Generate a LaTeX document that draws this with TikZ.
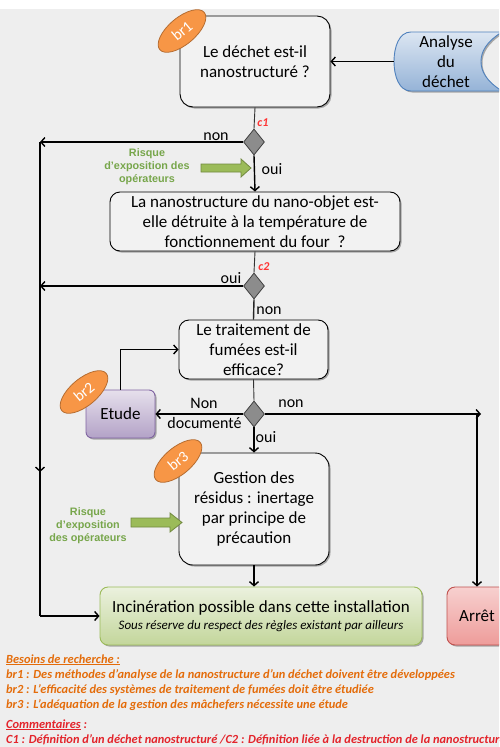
\documentclass[tikz,border=0pt]{standalone}
\usepackage{fontspec}
\setmainfont{Carlito}
\newfontfamily\arialf{Liberation Sans}
\usetikzlibrary{shapes.geometric,arrows.meta,shadows,shadings}
\definecolor{bgc}{HTML}{EEEEEE}
\definecolor{boxf}{HTML}{F2F2F2}
\definecolor{diaf}{HTML}{8C8C8C}
\definecolor{diab}{HTML}{404040}
\definecolor{brf}{HTML}{F79646}
\definecolor{brb}{HTML}{B66D31}
\definecolor{anat}{HTML}{DCE6F2}
\definecolor{anabot}{HTML}{95B3D7}
\definecolor{anab}{HTML}{4F81BD}
\definecolor{ett}{HTML}{E6E0EC}
\definecolor{etb}{HTML}{B3A2C7}
\definecolor{etd}{HTML}{8064A2}
\definecolor{inct}{HTML}{EBF1DE}
\definecolor{incb}{HTML}{C3D69B}
\definecolor{incd}{HTML}{9BBB59}
\definecolor{art}{HTML}{F7D0CF}
\definecolor{arb}{HTML}{EE9C9A}
\definecolor{ard}{HTML}{C0504D}
\definecolor{grf}{HTML}{9BBB59}
\definecolor{grb}{HTML}{71893F}
\definecolor{grt}{HTML}{77A64B}
\definecolor{ort}{HTML}{E46C0A}
\definecolor{redt}{HTML}{E3242B}
\definecolor{clr}{HTML}{FF3333}
\newcommand\mainsz{\fontsize{17}{20}\selectfont}
\begin{document}
\begin{tikzpicture}[x=1pt,y=-1pt,
  shad/.style={drop shadow={shadow xshift=1.5pt,shadow yshift=-1.5pt,opacity=0.3,fill=black}},
  box/.style={draw=black,line width=0.9pt,rounded corners=10pt,fill=boxf,align=center,font=\mainsz,inner sep=0pt,shad},
  dia/.style={diamond,draw=diab,fill=diaf,line width=0.8pt,minimum width=21pt,minimum height=26pt,inner sep=0pt},
  brl/.style={ellipse,draw=brb,fill=brf,line width=0.8pt,minimum width=58pt,minimum height=27pt,inner sep=0pt,text=white,font=\fontsize{15.5}{17}\selectfont},
  arr/.style={line width=1.4pt,-{Straight Barb[length=4pt,width=9pt]}},
  thinl/.style={line width=0.9pt,draw=black!80},
  thkl/.style={line width=1.4pt},
  lab/.style={font=\fontsize{16}{18}\selectfont,inner sep=0pt},
  clab/.style={font=\fontsize{12}{13}\selectfont\bfseries\itshape,text=clr,inner sep=0pt},
  gtxt/.style={font=\arialf\fontsize{10.8}{13}\selectfont\bfseries,text=grt,align=center,inner sep=0pt},
  garrow/.style={fill=grf,draw=grb,line width=0.8pt},
  note/.style={anchor=base west,inner sep=0pt,font=\fontsize{12.4}{13}\selectfont\bfseries\itshape}
]
\clip (0,0) rectangle (499,747);
\fill[white] (0,0) rectangle (499,9);
\fill[bgc] (0,9) rectangle (499,747);

% Analyse du dechet (stored data shape)
\path[draw=anab,line width=0.9pt,top color=anat,bottom color=anabot,shad]
  (411,32) -- (502,32) .. controls (486,42) and (481,52) .. (481,61.5)
  .. controls (481,71) and (486,81) .. (502,91) -- (411,91)
  .. controls (399,91) and (394,76) .. (394,61.5)
  .. controls (394,47) and (399,32) .. (411,32) -- cycle;
\node[font=\mainsz,align=center,minimum width=104pt,minimum height=59pt,inner sep=0pt] (ana) at (446,61.5) {Analyse\\du\\déchet};

% boxes
\node[box,minimum width=150pt,minimum height=91pt,rounded corners=13pt] (b1) at (255,61.5) {Le déchet est-il\\nanostructuré ?};
\node[box,minimum width=290pt,minimum height=59pt] (b2) at (255,221.5) {La nanostructure du nano-objet est-\\elle détruite à la température de\\fonctionnement du four~ ?};
\node[box,minimum width=149pt,minimum height=59pt] (b3) at (253.5,349.5) {Le traitement de\\fumées est-il\\efficace?};
\node[box,minimum width=150pt,minimum height=112pt,rounded corners=14pt] (b4) at (254,509) {Gestion des\\résidus : inertage\\par principe de\\précaution};
\node[draw=etd,line width=0.9pt,rounded corners=6pt,top color=ett,bottom color=etb,minimum width=69pt,minimum height=48pt,inner sep=0pt,font=\mainsz,shad] (et) at (120.5,414) {Etude};
\node[draw=incd,line width=0.9pt,rounded corners=8pt,top color=inct,bottom color=incb,minimum width=322pt,minimum height=58pt,inner sep=0pt,align=center,font=\mainsz,shad] (inc) at (261,616) {Incinération possible dans cette installation\\[-3pt]{\fontsize{13}{14}\selectfont\itshape Sous réserve du respect des règles existant par ailleurs}};
\node[draw=ard,line width=0.9pt,rounded corners=8pt,top color=art,bottom color=arb,minimum width=60pt,minimum height=58pt,inner sep=0pt,font=\mainsz,shad] (ar) at (477,616) {Arrêt};

% diamonds
\node[dia] (c1) at (254,142) {};
\node[dia] (c2) at (254,286) {};
\node[dia] (d3) at (254,414) {};

% coordinates
\coordinate (L1) at (40,142);
\coordinate (L2) at (40,286);
\coordinate (Lm) at (40,472);
\coordinate (L4) at (40,616);
\coordinate (R1) at (481,414);
\coordinate (R2) at (477,414);

% connectors
\draw[arr] (ana.west) -- (b1.east);
\draw[thinl] (b1.south) -- (c1.north);
\draw[arr] (c1.west) -- (L1);
\draw[arr] (c1.south) -- (b2.north);
\draw[thinl] (b2.south) -- (c2.north);
\draw[arr] (c2.west) -- (L2);
\draw[thkl,draw=black!85] (c2.south) -- (b3.north);
\draw[thinl] (b3.south) -- (d3.north);
\draw[arr] (d3.west) -- (et.east);
\draw[arr] (d3.east) -- (R1);
\draw[arr] (R2) -- (ar.north);
\draw[arr] (d3.south) -- (b4.north);
\draw[arr] (et.north) |- (b3.west);
\draw[arr] (b4.south) -- (b4.south |- inc.north);
\draw[thkl] (L1) -- (Lm);
\draw[arr] (L2) -- (Lm);
\draw[thkl] (Lm) -- (L4);
\draw[arr] (L4) -- (inc.west);

% labels
\node[lab] (t1) at (216,137) {non};
\node[lab] (t2) at (272,169) {oui};
\node[lab] (t3) at (231,278) {oui};
\node[lab] (t4) at (269,311) {non};
\node[lab] (t5) at (204,403) {Non};
\node[lab] (t6) at (204.5,423) {documenté};
\node[lab] (t7) at (291,404) {non};
\node[lab] (t8) at (266,437) {oui};
\node[clab] (lc1) at (263,123) {c1};
\node[clab] (lc2) at (264,267) {c2};

% green risk arrows and texts
\draw[garrow] (201,164) -- (241,164) -- (241,159) -- (251,168) -- (241,177) -- (241,172) -- (201,172) -- cycle;
\node[gtxt] (g1) at (147,167) {Risque\\d’exposition des\\opérateurs};
\draw[garrow] (131,518) -- (170,518) -- (170,513) -- (182,522.5) -- (170,532) -- (170,527) -- (131,527) -- cycle;
\node[gtxt] (g2) at (88,526) {Risque\\d’exposition\\des opérateurs};

% br ellipses
\node[brl,rotate=40] (br1) at (182,31) {br1};
\node[brl,rotate=40] (br2) at (84,392) {br2};
\node[brl,rotate=40] (br3) at (178,461) {br3};

% notes
\node[note,text=ort] (n0) at (6,663) {\underline{Besoins de recherche :}};
\node[note,text=ort] (n1) at (6,678) {br1 : Des méthodes d’analyse de la nanostructure d’un déchet doivent être développées};
\node[note,text=ort] (n2) at (6,693) {br2 : L’efficacité des systèmes de traitement de fumées doit être étudiée};
\node[note,text=ort] (n3) at (6,708) {br3 : L’adéquation de la gestion des mâchefers nécessite une étude};
\node[note,text=redt] (n4) at (6,728) {\underline{Commentaires} :};
\node[note,text=redt] (n5) at (6,743) {C1 : Définition d’un déchet nanostructuré /C2 : Définition liée à la destruction de la nanostructure};
\end{tikzpicture}
\end{document}
